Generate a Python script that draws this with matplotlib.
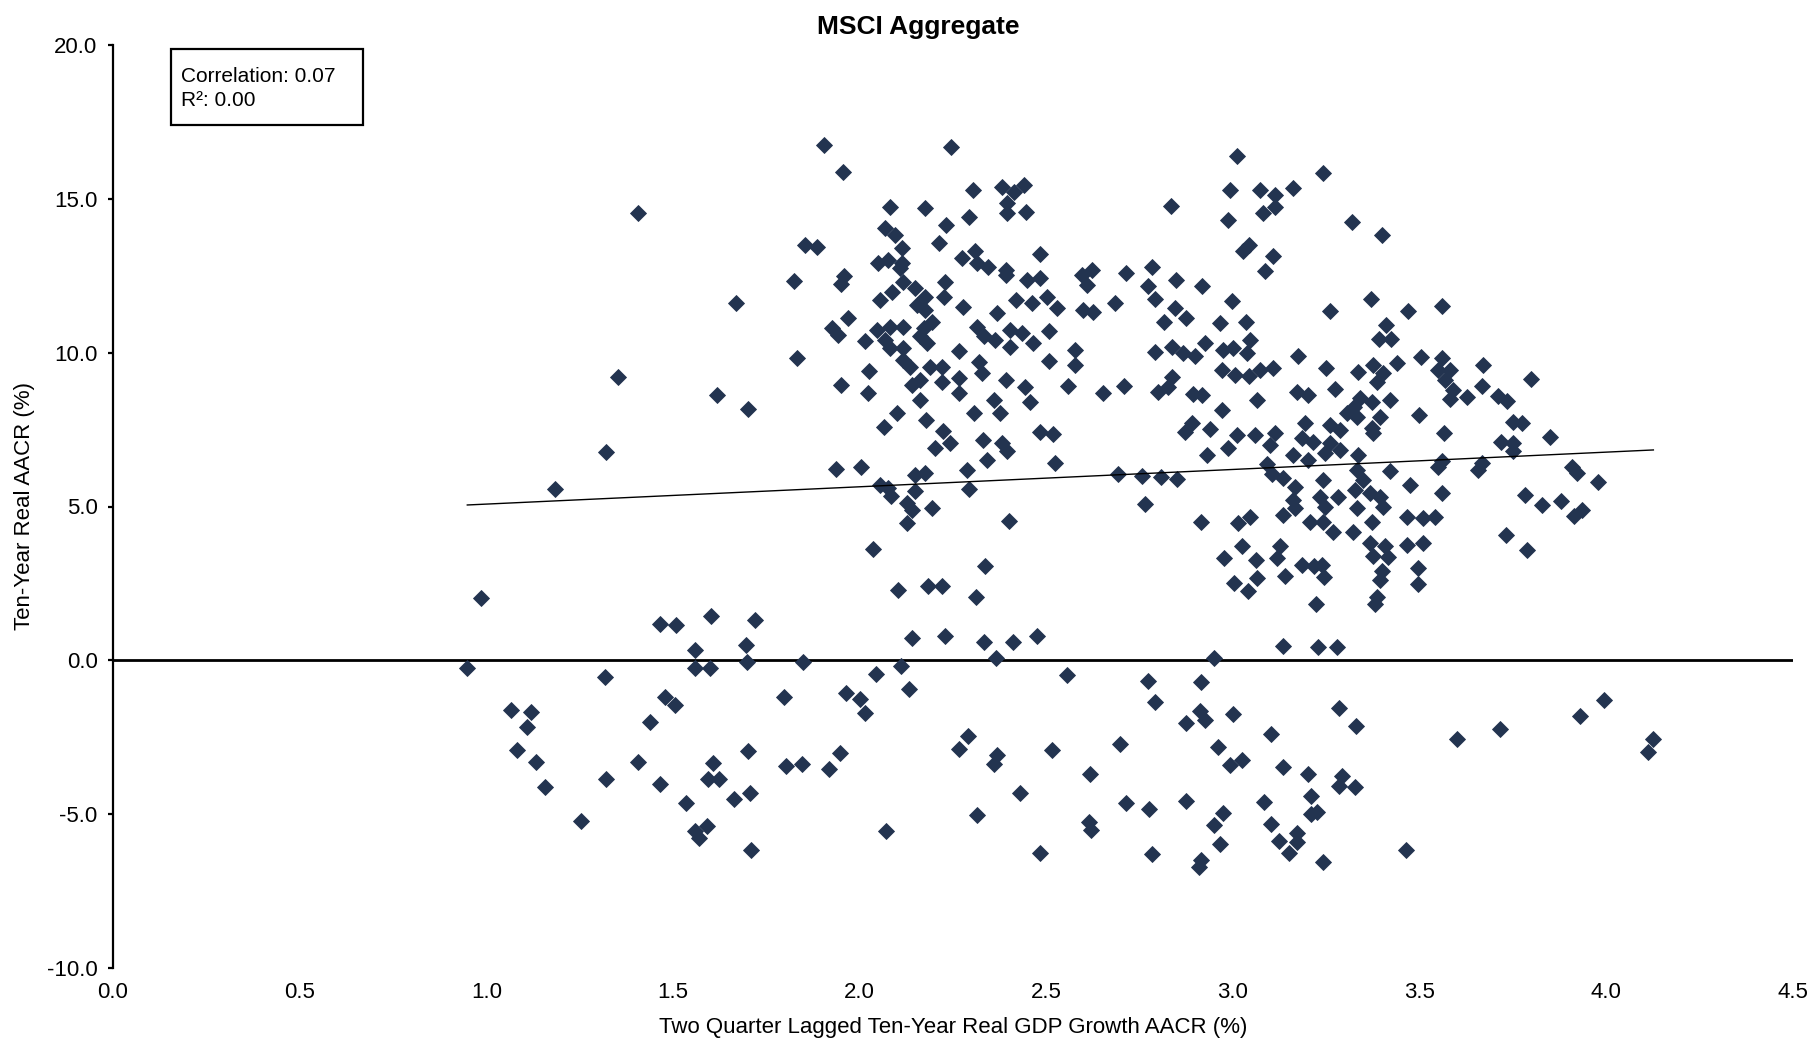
import numpy as np
import matplotlib
matplotlib.use('Agg')
from matplotlib import pyplot as plt
from matplotlib.patches import Rectangle

# (gdp growth aacr, ten-year real aacr), grouped by area
pts_left = [
    (1.407, 14.53), (1.669, 11.60), (1.352, 9.22), (1.617, 8.62), (1.702, 8.16),
    (1.321, 6.78), (1.184, 5.56),
    (0.985, 2.02), (0.949, -0.26), (1.464, 1.18), (1.508, 1.15), (1.601, 1.44),
    (1.720, 1.31), (1.559, 0.34), (1.559, -0.26), (1.599, -0.26), (1.696, 0.50),
    (1.698, -0.04), (1.318, -0.55), (1.479, -1.20), (1.506, -1.45), (1.439, -2.01),
    (1.065, -1.63), (1.120, -1.68), (1.110, -2.17), (1.081, -2.93), (1.133, -3.31),
    (1.157, -4.12), (1.320, -3.86), (1.407, -3.31), (1.465, -4.01), (1.606, -3.34),
    (1.595, -3.86), (1.622, -3.86), (1.700, -2.96), (1.706, -4.30), (1.663, -4.51),
    (1.535, -4.64), (1.254, -5.21), (1.590, -5.40), (1.559, -5.56), (1.570, -5.78),
    (1.709, -6.18),
]

pts_mid_low = [
    (2.126, 4.45), (2.401, 4.54), (2.037, 3.61), (2.336, 3.07), (2.104, 2.27),
    (2.182, 2.42), (2.220, 2.42), (2.311, 2.05), (1.848, -0.04), (2.141, 0.72),
    (2.229, 0.79), (2.332, 0.61), (2.412, 0.61), (2.476, 0.79), (2.365, 0.07),
    (2.111, -0.18), (2.044, -0.44), (2.133, -0.94), (1.798, -1.18), (1.963, -1.07),
    (2.001, -1.26), (2.015, -1.70), (2.291, -2.45), (2.265, -2.89), (2.369, -3.07),
    (2.360, -3.36), (1.803, -3.43), (1.845, -3.36), (1.918, -3.54), (1.948, -3.02),
    (2.430, -4.30), (2.314, -5.02), (2.070, -5.56), (2.483, -6.27),
]

pts_mid_up = [
    (1.905, 16.75), (2.245, 16.70), (1.955, 15.88), (2.304, 15.29), (2.381, 15.37),
    (2.413, 15.23), (2.439, 15.45), (2.446, 14.58), (1.853, 13.50), (1.885, 13.43),
    (2.483, 13.21), (1.823, 12.34), (1.959, 12.49), (1.951, 12.23), (2.447, 12.36),
    (2.483, 12.42), (2.461, 11.60), (2.501, 11.80), (2.528, 11.44), (1.968, 11.12),
    (1.925, 10.79), (1.943, 10.58), (2.015, 10.37), (2.434, 10.64), (2.465, 10.32),
    (2.506, 10.70), (2.506, 9.73), (1.831, 9.82), (2.024, 9.42), (1.951, 8.96),
    (2.022, 8.69), (2.443, 8.90), (2.457, 8.40), (2.064, 7.60), (2.179, 7.81),
    (2.484, 7.41), (2.519, 7.37), (2.224, 7.45), (2.242, 7.06), (2.202, 6.90),
    (2.331, 7.17), (2.380, 7.06), (2.394, 6.79), (2.340, 6.50), (1.937, 6.21),
    (2.003, 6.30), (2.287, 6.20), (2.148, 6.03), (2.175, 6.09), (2.523, 6.40),
    (2.054, 5.71), (2.077, 5.60), (2.085, 5.33), (2.148, 5.49), (2.292, 5.56),
    (2.126, 5.11), (2.140, 4.90), (2.193, 4.96),
]

pts_mid_dense = [
    (2.082, 14.75), (2.175, 14.69), (2.294, 14.42), (2.232, 14.15), (2.394, 14.53),
    (2.394, 14.85), (2.068, 14.04), (2.095, 13.82), (2.113, 13.39), (2.212, 13.55),
    (2.050, 12.90), (2.077, 13.01), (2.113, 12.90), (2.108, 12.74), (2.274, 13.07),
    (2.310, 13.29), (2.314, 12.90), (2.345, 12.80), (2.392, 12.69), (2.392, 12.53),
    (2.117, 12.31), (2.148, 12.09), (2.228, 12.31), (2.175, 11.82), (2.225, 11.82),
    (2.086, 11.98), (2.055, 11.71), (2.276, 11.47), (2.153, 11.55), (2.175, 11.39),
    (2.369, 11.28), (2.418, 11.71), (2.046, 10.74), (2.082, 10.85), (2.117, 10.85),
    (2.171, 10.79), (2.193, 11.01), (2.068, 10.42), (2.082, 10.15), (2.117, 10.15),
    (2.162, 10.53), (2.180, 10.31), (2.117, 9.77), (2.135, 9.55), (2.314, 10.85),
    (2.332, 10.53), (2.363, 10.42), (2.403, 10.74), (2.403, 10.20), (2.266, 10.04),
    (2.319, 9.71), (2.327, 9.33), (2.189, 9.55), (2.220, 9.55), (2.220, 9.06),
    (2.139, 8.96), (2.162, 9.12), (2.162, 8.47), (2.266, 9.17), (2.266, 8.68),
    (2.392, 9.12), (2.361, 8.47), (2.099, 8.03), (2.305, 8.03), (2.376, 8.03),
]

pts_right_up = [
    (3.010, 16.39), (3.242, 15.83), (2.991, 15.29), (3.072, 15.29), (3.113, 15.13),
    (3.160, 15.35), (2.834, 14.78), (3.081, 14.54), (3.113, 14.73), (2.986, 14.30),
    (3.320, 14.26), (3.043, 13.51), (3.028, 13.29), (3.108, 13.15), (3.086, 12.67),
    (2.595, 12.52), (2.622, 12.69), (2.608, 12.20), (2.714, 12.60), (2.783, 12.79),
    (2.771, 12.17), (2.847, 12.36), (2.916, 12.18), (2.792, 11.74), (2.845, 11.45),
    (2.875, 11.12), (2.997, 11.69), (3.260, 11.34), (2.599, 11.39), (2.626, 11.31),
    (2.684, 11.63), (2.816, 11.01), (2.964, 10.96), (3.035, 11.01), (3.046, 10.42),
    (3.037, 9.98), (2.791, 10.03), (2.836, 10.20), (2.867, 10.00), (2.898, 9.90),
    (2.925, 10.31), (2.974, 10.10), (3.001, 10.15), (2.970, 9.45), (3.006, 9.29),
    (3.042, 9.25), (3.073, 9.45), (3.108, 9.50), (3.174, 9.90), (2.577, 10.09),
    (2.577, 9.60), (2.559, 8.91), (2.653, 8.70), (2.708, 8.91), (2.836, 9.21),
    (2.800, 8.72), (2.827, 8.89), (2.892, 8.65), (2.916, 8.61), (2.970, 8.15),
    (3.064, 8.46), (2.889, 7.70), (2.872, 7.43), (2.939, 7.51), (3.010, 7.32),
    (2.986, 6.89), (3.059, 7.32), (3.113, 7.38), (3.100, 7.00), (2.931, 6.67),
    (2.693, 6.06), (2.756, 5.98), (2.806, 5.96), (2.850, 5.91), (2.765, 5.09),
    (3.090, 6.39), (3.104, 6.06),
]

pts_right_dense = [
    (3.249, 9.49), (3.336, 9.38), (3.376, 9.60), (3.403, 9.33), (3.439, 9.66),
    (3.385, 9.06), (3.550, 9.44), (3.171, 8.73), (3.202, 8.63), (3.273, 8.81),
    (3.340, 8.52), (3.372, 8.41), (3.421, 8.46), (3.497, 7.98), (3.305, 8.03),
    (3.323, 8.24), (3.331, 7.92), (3.394, 7.92), (3.376, 7.38), (3.372, 7.54),
    (3.193, 7.71), (3.260, 7.65), (3.287, 7.49), (3.184, 7.22), (3.215, 7.11),
    (3.260, 7.06), (3.287, 6.84), (3.247, 6.73), (3.162, 6.68), (3.202, 6.51),
    (3.336, 6.68), (3.564, 7.38), (3.550, 6.30), (3.135, 5.92), (3.166, 5.65),
    (3.242, 5.86), (3.331, 6.19), (3.349, 5.86), (3.421, 6.14), (3.474, 5.70),
    (3.559, 5.43), (3.162, 5.21), (3.166, 4.94), (3.233, 5.32), (3.247, 5.00),
    (3.282, 5.32), (3.327, 5.54), (3.367, 5.43), (3.394, 5.32), (3.403, 5.00),
    (3.331, 4.94), (3.135, 4.73), (3.206, 4.51), (3.242, 4.51), (3.269, 4.18),
    (3.322, 4.18), (3.372, 4.51), (3.465, 4.67), (3.510, 4.62), (3.541, 4.67),
    (3.367, 3.81), (3.407, 3.70), (3.465, 3.75), (3.510, 3.81),
]

pts_right_low = [
    (2.915, 4.51), (3.013, 4.46), (3.046, 4.67), (3.024, 3.72), (2.975, 3.32),
    (3.062, 3.27), (3.126, 3.70), (3.117, 3.32), (3.184, 3.10), (3.216, 3.05),
    (3.238, 3.10), (3.243, 2.72), (3.139, 2.74), (3.064, 2.67), (3.004, 2.51),
    (3.039, 2.24), (3.223, 1.83), (3.135, 0.47), (3.229, 0.44), (3.278, 0.44),
    (2.949, 0.06), (2.555, -0.48), (2.771, -0.66), (2.914, -0.69), (2.792, -1.37),
    (2.912, -1.66), (2.925, -1.93), (2.874, -2.04), (2.999, -1.74), (3.285, -1.55),
    (3.330, -2.13), (3.102, -2.39), (2.514, -2.93), (2.698, -2.71), (2.961, -2.82),
    (2.992, -3.39), (3.023, -3.23), (3.135, -3.47), (3.200, -3.71), (3.292, -3.77),
    (3.285, -4.09), (3.327, -4.11), (2.617, -3.71), (2.714, -4.63), (2.774, -4.82),
    (2.874, -4.57), (3.082, -4.59), (3.209, -4.41), (2.974, -4.97), (2.949, -5.36),
    (2.613, -5.27), (2.619, -5.50), (3.224, -4.93), (3.209, -5.00), (3.102, -5.33),
    (3.171, -5.60), (3.124, -5.86), (3.171, -5.90), (3.151, -6.27), (2.966, -5.97),
    (2.782, -6.29), (2.914, -6.50), (2.909, -6.71), (3.240, -6.57),
]

pts_far_right = [
    (3.400, 13.84), (3.369, 11.76), (3.469, 11.35), (3.561, 11.53), (3.409, 10.90),
    (3.391, 10.44), (3.423, 10.44), (3.503, 9.87), (3.559, 9.82), (3.581, 9.44),
    (3.568, 9.11), (3.590, 8.79), (3.581, 8.49), (3.670, 9.60), (3.799, 9.13),
    (3.668, 8.92), (3.626, 8.57), (3.711, 8.60), (3.733, 8.44), (3.749, 7.76),
    (3.773, 7.70), (3.849, 7.27), (3.717, 7.11), (3.749, 7.06), (3.749, 6.79),
    (3.559, 6.47), (3.666, 6.41), (3.657, 6.19), (3.908, 6.30), (3.921, 6.08),
    (3.977, 5.81), (3.783, 5.36), (3.827, 5.06), (3.878, 5.17), (3.935, 4.90),
    (3.913, 4.68),
    (3.376, 3.40), (3.416, 3.35), (3.399, 2.89), (3.394, 2.62), (3.495, 3.00),
    (3.495, 2.49), (3.385, 2.05), (3.381, 1.84), (3.732, 4.08), (3.787, 3.59),
    (3.600, -2.56), (3.714, -2.24), (3.930, -1.80), (3.994, -1.30), (4.126, -2.56),
    (4.111, -2.99), (3.464, -6.16),
]

# trend line as drawn on the chart, and the stats box
fit_intercept = 4.515
fit_slope = 0.563
correlation = 0.07
r_squared = 0.00

points = np.array(pts_left + pts_mid_low + pts_mid_up + pts_mid_dense
                  + pts_right_up + pts_right_dense + pts_right_low + pts_far_right)
gdp_growth = points[:, 0]
real_aacr = points[:, 1]

plt.rcParams['font.family'] = ['Liberation Sans', 'DejaVu Sans']

W, H = 1812, 1045
fig = plt.figure(figsize=(W / 100, H / 100), dpi=100)
ax = fig.add_axes([113 / W, 1 - 968 / H, 1680 / W, 923 / H])

navy = '#233450'
ax.axhline(0, color='black', lw=2.0, zorder=1)
ax.plot(gdp_growth, real_aacr, linestyle='none', marker='D', ms=8.6,
        color=navy, mec=navy, mew=0.6, zorder=3)
xs = np.array([gdp_growth.min(), gdp_growth.max()])
ax.plot(xs, fit_intercept + fit_slope * xs, color='black', lw=1.0, zorder=4)

ax.set_xlim(0, 4.5)
ax.set_ylim(-10, 20)
ax.set_xticks(np.arange(0, 4.51, 0.5))
ax.set_yticks(np.arange(-10, 20.1, 5))
ax.xaxis.set_major_formatter(plt.FormatStrFormatter('%.1f'))
ax.yaxis.set_major_formatter(plt.FormatStrFormatter('%.1f'))
for s in ['top', 'right', 'bottom']:
    ax.spines[s].set_visible(False)
ax.spines['left'].set_linewidth(1.6)
ax.tick_params(axis='x', length=0, pad=10, labelsize=16)
ax.tick_params(axis='y', length=3.6, width=1.6, direction='out', pad=7.5, labelsize=16)

fig.text(918 / W, 1 - 27 / H, 'MSCI Aggregate', ha='center', va='center',
         fontsize=19, fontweight='bold')
fig.text(953 / W, 1 - 1028 / H, 'Two Quarter Lagged Ten-Year Real GDP Growth AACR (%)',
         ha='center', va='center', fontsize=16)
fig.text(25 / W, 1 - 506 / H, 'Ten-Year Real AACR (%)', ha='center', va='center',
         rotation=90, fontsize=16)

# stats box
fig.add_artist(Rectangle((171 / W, 1 - 125 / H), 192 / W, 76 / H, transform=fig.transFigure,
                         fill=False, edgecolor='black', lw=1.6))
fig.text(181 / W, 1 - 76 / H, 'Correlation: %.2f' % correlation, ha='left', va='center',
         fontsize=15)
fig.text(181 / W, 1 - 101 / H, 'R\u00b2: %.2f' % r_squared, ha='left', va='center',
         fontsize=15)

fig.savefig('out.png', dpi=100, facecolor='white')
